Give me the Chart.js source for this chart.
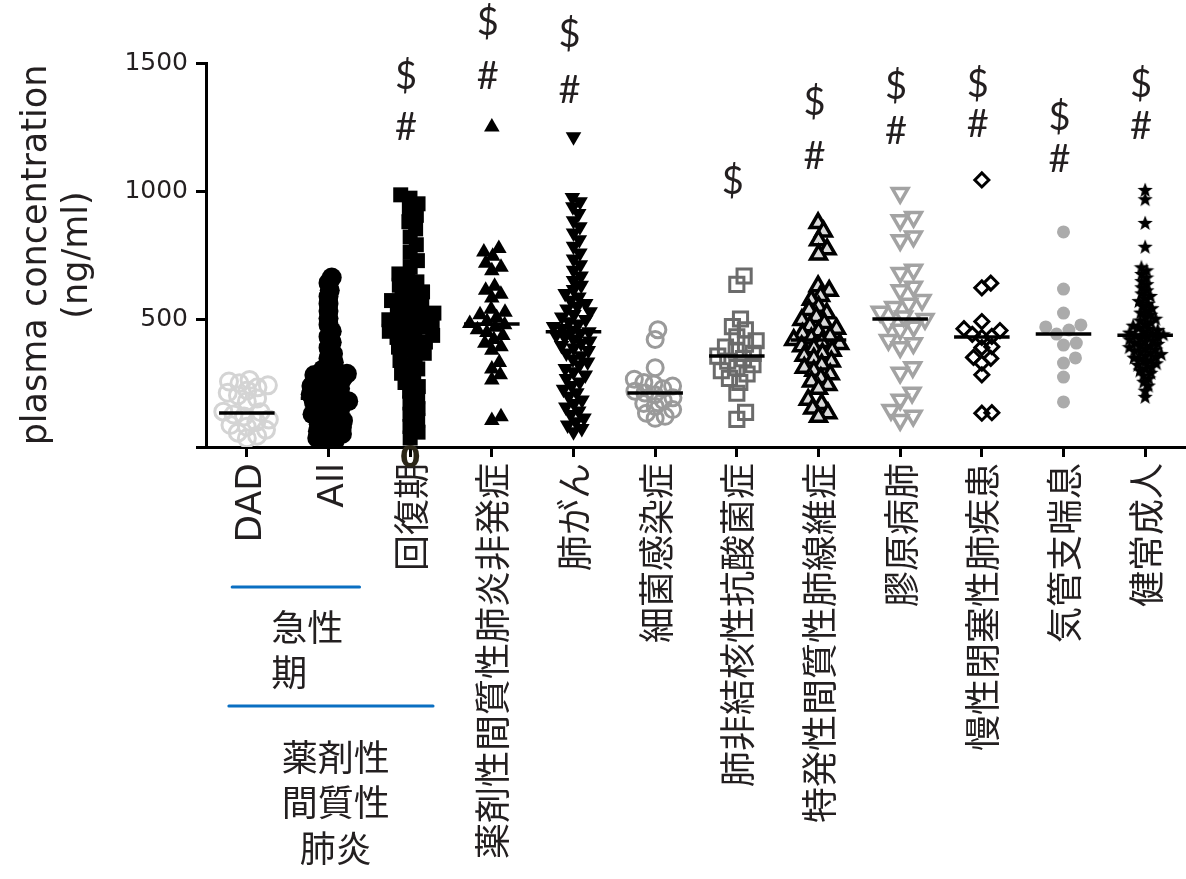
<!DOCTYPE html>
<html>
<head>
<meta charset="utf-8">
<script src="https://cdn.jsdelivr.net/npm/chart.js@4"></script>
<style>
  html, body { margin: 0; padding: 0; background: #fff; overflow: hidden; }
  #wrap { width: 1186px; height: 879px; }
</style>
</head>
<body>
<div id="wrap"><canvas id="myChart"></canvas></div>
<script>
var categories = ["DAD", "All", "回復期", "薬剤性間質性肺炎非発症", "肺がん", "細菌感染症",
  "肺非結核性抗酸菌症", "特発性間質性肺線維症", "膠原病肺", "慢性閉塞性肺疾患", "気管支喘息", "健常成人"];
var yTicks = [0, 500, 1000, 1500];

// plasma concentration (ng/ml)
var dad = [262, 256, 249, 241, 233, 221, 212, 201, 189, 178, 138, 136, 127, 119, 107, 98, 86, 79, 67, 56, 44, 34];
var all = [662, 641, 612, 588, 560, 531, 503, 478, 452, 431, 409, 388, 364, 347, 331, 318, 303, 296, 291, 286,
  281, 277, 272, 268, 263, 257, 252, 249, 244, 238, 233, 229, 224, 219, 214, 210, 206, 201, 197, 192,
  188, 183, 179, 174, 170, 165, 161, 156, 152, 147, 141, 137, 132, 128, 122, 117, 113, 108, 103, 98,
  94, 89, 84, 78, 73, 68, 62, 57, 51, 46, 41, 35, 29, 22, 15];
var recovery = [985, 972, 950, 932, 905, 880, 852, 820, 790, 760, 728, 702, 676, 660, 645, 632, 618, 606, 595, 584,
  572, 561, 550, 541, 532, 523, 514, 505, 497, 490, 483, 476, 468, 460, 452, 444, 436, 428, 419, 410,
  400, 390, 378, 366, 352, 338, 322, 305, 288, 270, 252, 236, 218, 196, 172, 150, 128, 104, 80, 58, 35];
var drugNoPneu = [1250, 775, 762, 745, 718, 702, 688, 628, 612, 597, 582, 538, 526, 517, 506, 490, 482, 478,
  468, 458, 447, 436, 420, 405, 392, 378, 330, 305, 282, 262, 118, 104];
var lungCancer = [1212, 975, 958, 938, 912, 884, 860, 836, 810, 784, 758, 734, 712, 690, 668, 650, 632, 615, 600, 586,
  573, 561, 550, 539, 528, 518, 508, 498, 489, 480, 471, 463, 456, 450, 444, 437, 430, 422, 414, 405,
  396, 387, 377, 367, 356, 344, 332, 320, 307, 294, 281, 268, 254, 240, 226, 212, 198, 184, 170, 156,
  141, 127, 113, 99, 86, 72, 60];
var bacterial = [458, 420, 310, 265, 252, 246, 238, 228, 218, 211, 204, 192, 182, 170, 158, 146, 132, 120, 112];
var ntm = [668, 635, 500, 470, 458, 430, 415, 402, 390, 378, 366, 355, 345, 335, 322, 310, 298, 285, 268, 252, 210, 135, 108];
var ipf = [875, 842, 808, 772, 752, 628, 610, 590, 575, 548, 535, 522, 508, 496, 484, 472, 462, 452, 442, 432,
  424, 418, 410, 402, 394, 386, 376, 366, 356, 346, 334, 322, 310, 298, 284, 270, 256, 242, 228, 185,
  168, 150, 132, 118];
var ctdIld = [992, 898, 886, 822, 808, 692, 680, 626, 612, 574, 560, 547, 528, 510, 500, 484, 470, 458, 418, 405,
  390, 312, 290, 212, 185, 145, 122, 105];
var copd = [1043, 640, 622, 490, 462, 455, 440, 432, 428, 392, 388, 350, 346, 328, 282, 134, 132];
var asthma = [840, 617, 523, 477, 469, 457, 441, 406, 398, 348, 328, 273, 176];
var healthy = [1004, 968, 875, 782, 702, 690, 676, 662, 648, 636, 624, 612, 600, 590, 580, 570, 560, 551, 542, 533,
  525, 517, 509, 501, 494, 487, 480, 474, 468, 462, 457, 452, 447, 443, 440, 437, 434, 430, 426, 421,
  417, 412, 408, 403, 399, 395, 390, 386, 381, 377, 372, 368, 363, 358, 354, 349, 344, 339, 333, 327,
  321, 314, 307, 299, 290, 280, 268, 255, 240, 220, 196];

var groups = [dad, all, recovery, drugNoPneu, lungCancer, bacterial, ntm, ipf, ctdIld, copd, asthma, healthy];
var medians = [133, 190, 484, 480, 450, 211, 355, 418, 500, 430, 441, 437];

// significance marks, placed at a height in ng/ml
var dollarAt = [null, null, 1445, 1656, 1609, null, 1035, 1344, 1406, 1414, 1285, 1414];
var hashAt = [null, null, 1246, 1445, 1391, null, null, 1133, 1230, 1258, 1121, 1250];

var textColor = "#231f20";

function starImage(size, color) {
  var cv = document.createElement("canvas");
  cv.width = size;
  cv.height = size;
  var g = cv.getContext("2d");
  var r = size / 2, ri = r * 0.42;
  g.beginPath();
  for (var k = 0; k < 10; k++) {
    var a = -Math.PI / 2 + k * Math.PI / 5;
    var rr = k % 2 ? ri : r;
    g.lineTo(r + rr * Math.cos(a), r + 0.5 + rr * Math.sin(a));
  }
  g.closePath();
  g.fillStyle = color;
  g.fill();
  return cv;
}

// marker look per group (diam = footprint used when spreading points)
var looks = [
  { style: "circle", r: 8.5, fill: "rgba(0,0,0,0)", line: "#d4d4d4", bw: 3, diam: 20, spread: 25 },
  { style: "circle", r: 10, fill: "#000", line: "#000", bw: 0, diam: 20, spread: 20 },
  { style: "rect", r: 10.6, fill: "#000", line: "#000", bw: 0, diam: 15, spread: 25 },
  { style: "triangle", r: 9, fill: "#000", line: "#000", bw: 0, diam: 15, spread: 24 },
  { style: "triangle", rot: 180, r: 9, fill: "#000", line: "#000", bw: 0, diam: 15, spread: 24 },
  { style: "circle", r: 8, fill: "rgba(0,0,0,0)", line: "#9a9a9a", bw: 3, diam: 19, spread: 24 },
  { style: "rect", r: 10, fill: "rgba(0,0,0,0)", line: "#6b6b6b", bw: 3, diam: 17, spread: 24 },
  { style: "triangle", r: 9, fill: "#d9d9d9", line: "#000", bw: 3.5, diam: 17, spread: 25 },
  { style: "triangle", rot: 180, r: 9, fill: "rgba(0,0,0,0)", line: "#a3a3a3", bw: 3.5, diam: 17, spread: 25 },
  { style: "rectRot", r: 7, fill: "rgba(0,0,0,0)", line: "#000", bw: 3, diam: 17, spread: 24 },
  { style: "circle", r: 6.5, fill: "#ababab", line: "#ababab", bw: 0, diam: 13, spread: 24 },
  { style: starImage(16, "#000"), r: 8, fill: "#000", line: "#000", bw: 0, diam: 14, spread: 22 }
];

var datasets = [];
medians.forEach(function (m, i) {
  datasets.push({
    type: "line",
    xAxisID: "xj",
    order: -1,
    data: [{ x: i - 0.34, y: m }, { x: i + 0.34, y: m }],
    borderColor: "#000",
    borderWidth: 3.5,
    pointRadius: 0,
    fill: false
  });
});
groups.forEach(function (vals, i) {
  var lk = looks[i];
  datasets.push({
    xAxisID: "xj",
    data: vals.map(function (v) { return { x: i, y: v }; }),
    pointStyle: lk.style,
    pointRotation: lk.rot || 0,
    pointRadius: lk.r,
    backgroundColor: lk.fill,
    borderColor: lk.line,
    borderWidth: lk.bw
  });
});

var extras = {
  id: "extras",
  afterDraw: function (chart) {
    var c = chart.ctx, xs = chart.scales.xj, ys = chart.scales.y, area = chart.chartArea;
    c.save();
    c.fillStyle = textColor;
    c.textAlign = "center";
    c.textBaseline = "middle";
    c.font = "38px Lato";
    categories.forEach(function (_, i) {
      var x = xs.getPixelForValue(i - 0.05);
      if (dollarAt[i] != null) c.fillText("$", x, ys.getPixelForValue(dollarAt[i]));
      if (hashAt[i] != null) c.fillText("#", x, ys.getPixelForValue(hashAt[i]));
    });

    // stray bold zero under the third tick
    c.fillStyle = "#2b2618";
    c.font = "bold 30px 'DejaVu Sans'";
    c.fillText("0", xs.getPixelForValue(2), area.bottom + 12);

    // group brackets under the first columns
    c.strokeStyle = "#0a6fc2";
    c.lineWidth = 3;
    c.lineCap = "round";
    c.beginPath();
    c.moveTo(xs.getPixelForValue(-0.18), area.bottom + 140);
    c.lineTo(xs.getPixelForValue(1.38), area.bottom + 140);
    c.moveTo(xs.getPixelForValue(-0.22), area.bottom + 259);
    c.lineTo(xs.getPixelForValue(2.28), area.bottom + 259);
    c.stroke();

    c.fillStyle = textColor;
    c.font = "36px 'Noto Sans CJK JP'";
    c.textAlign = "left";
    var gx = xs.getPixelForValue(0.3);
    c.fillText("急性", gx, area.bottom + 180);
    c.fillText("期", gx, area.bottom + 225);
    c.textAlign = "center";
    var dx = xs.getPixelForValue(1.09);
    c.fillText("薬剤性", dx, area.bottom + 310);
    c.fillText("間質性", dx, area.bottom + 355);
    c.fillText("肺炎", dx, area.bottom + 401);
    c.restore();
  }
};

var ctx = document.getElementById("myChart");
var myChart = new Chart(ctx, {
  type: "scatter",
  data: { labels: categories, datasets: datasets },
  options: {
    responsive: true,
    maintainAspectRatio: false,
    animation: false,
    layout: { autoPadding: false, padding: { top: 63, left: 0, right: 0, bottom: 0 } },
    plugins: {
      legend: { display: false },
      tooltip: { enabled: false }
    },
    scales: {
      x: {
        type: "category",
        position: "bottom",
        offset: true,
        grid: { display: true, offset: false, drawOnChartArea: false, drawTicks: true, tickLength: 10, tickWidth: 3, tickColor: "#000" },
        border: { display: true, width: 3, color: "#000" },
        ticks: {
          autoSkip: false,
          minRotation: 90,
          maxRotation: 90,
          padding: 6,
          labelOffset: 5,
          color: textColor,
          font: { family: "'DejaVu Sans', 'Noto Sans CJK JP'", size: 36 }
        },
        afterFit: function (s) { s.height = 432; s.paddingLeft = 0; s.paddingRight = 0; }
      },
      xj: { type: "linear", position: "bottom", min: -0.5, max: 11.5, display: false },
      y: {
        min: 0,
        max: 1500,
        afterBuildTicks: function (s) { s.ticks = yTicks.map(function (v) { return { value: v }; }); },
        grid: { display: true, drawOnChartArea: false, drawTicks: true, tickLength: 10, tickWidth: 3, tickColor: "#000" },
        border: { display: true, width: 3, color: "#000" },
        ticks: {
          padding: 8,
          color: textColor,
          font: { family: "'DejaVu Sans'", size: 25 },
          callback: function (v) { return v === 0 ? "" : String(v); }
        },
        title: {
          display: true,
          text: ["plasma concentration", "(ng/ml)"],
          color: textColor,
          font: { family: "'DejaVu Sans'", size: 35, lineHeight: 1.18 },
          padding: { top: 16, bottom: 0 }
        },
        afterFit: function (s) { s.width = 206; s.paddingTop = 0; s.paddingBottom = 0; }
      }
    }
  },
  plugins: [extras]
});

// spread points sideways (beeswarm) so they overlap like the column scatter
function swarm(vals, diam, maxPx) {
  var ys = myChart.scales.y;
  var pts = vals.map(function (v) { return { y: ys.getPixelForValue(v), x: 0 }; });
  var sorted = pts.slice().sort(function (a, b) { return b.y - a.y; });
  for (var d = diam; d > diam * 0.25; d *= 0.9) {
    var placed = [], ok = true;
    sorted.forEach(function (p) {
      var cand = [0];
      placed.forEach(function (q) {
        var dy = Math.abs(p.y - q.y);
        if (dy < d) {
          var w = Math.sqrt(d * d - dy * dy);
          cand.push(q.x + w, q.x - w);
        }
      });
      cand.sort(function (a, b) { return Math.abs(a) - Math.abs(b); });
      for (var i = 0; i < cand.length; i++) {
        var free = true;
        for (var j = 0; j < placed.length; j++) {
          var ddx = cand[i] - placed[j].x, ddy = p.y - placed[j].y;
          if (ddx * ddx + ddy * ddy < d * d - 0.01) { free = false; break; }
        }
        if (free) { p.x = cand[i]; break; }
      }
      placed.push(p);
      if (Math.abs(p.x) > maxPx) ok = false;
    });
    if (ok) break;
  }
  return pts.map(function (p) { return Math.max(-maxPx, Math.min(maxPx, p.x)); });
}

var xj = myChart.scales.xj;
var pxPerCat = xj.getPixelForValue(1) - xj.getPixelForValue(0);
groups.forEach(function (vals, i) {
  var off = swarm(vals, looks[i].diam, looks[i].spread);
  myChart.data.datasets[medians.length + i].data = vals.map(function (v, k) {
    return { x: i + off[k] / pxPerCat, y: v };
  });
});
myChart.update();
</script>
</body>
</html>
